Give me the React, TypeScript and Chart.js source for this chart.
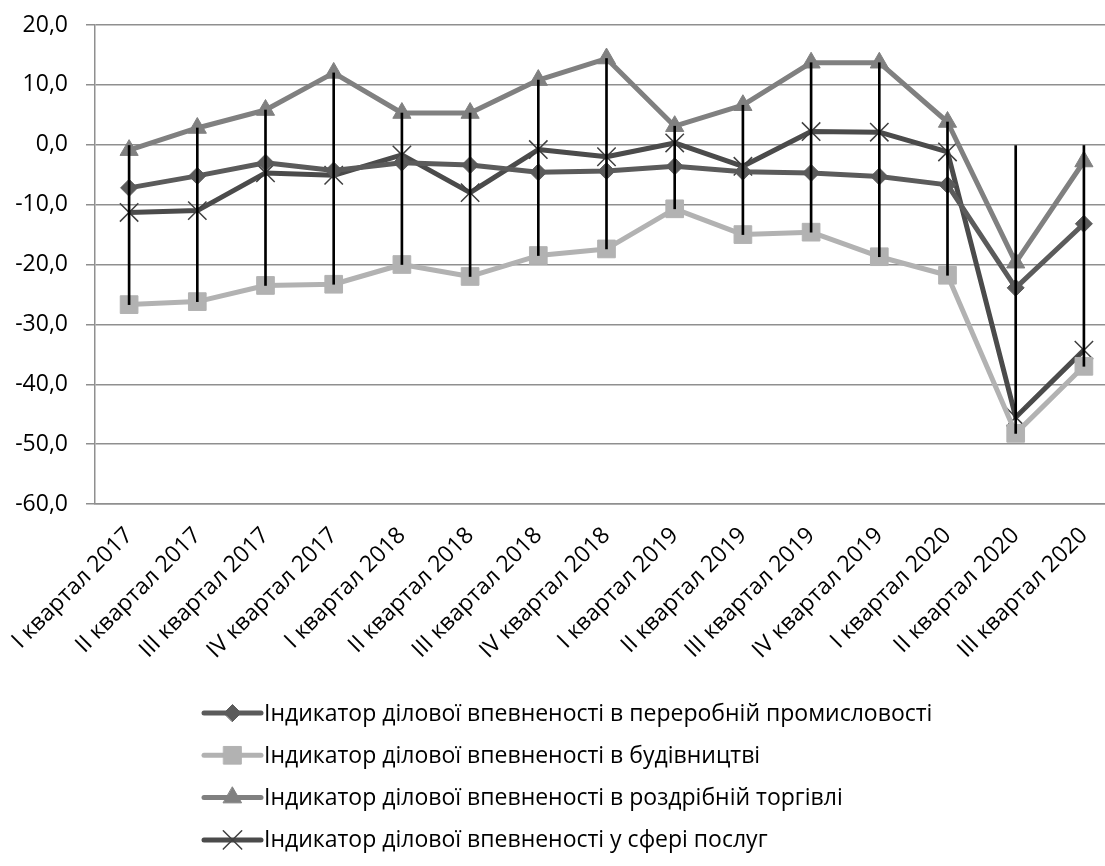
import React, { useEffect, useRef } from "react";
import { Chart, registerables } from "chart.js";
import { drawPoint } from "chart.js/helpers";

Chart.register(...registerables);

const categories = [
  "I квартал 2017", "II квартал 2017", "III квартал 2017", "IV квартал 2017",
  "I квартал 2018", "II квартал 2018", "III квартал 2018", "IV квартал 2018",
  "I квартал 2019", "II квартал 2019", "III квартал 2019", "IV квартал 2019",
  "I квартал 2020", "II квартал 2020", "III квартал 2020",
];

const manufacturing = [-7.2, -5.2, -3.0, -4.3, -3.0, -3.4, -4.6, -4.4, -3.6, -4.5, -4.7, -5.3, -6.7, -23.9, -13.2];
const construction = [-26.7, -26.2, -23.5, -23.3, -20.0, -22.0, -18.5, -17.4, -10.7, -15.0, -14.6, -18.7, -21.8, -48.2, -37.0];
const retail = [-0.9, 2.8, 5.8, 12.0, 5.3, 5.3, 10.8, 14.4, 3.1, 6.6, 13.7, 13.7, 3.8, -19.7, -2.8];
const services = [-11.3, -11.0, -4.7, -5.1, -1.7, -8.0, -0.8, -2.0, 0.3, -3.6, 2.2, 2.1, -1.2, -45.5, -34.3];
const highLowTop = [0, 2.8, 5.8, 12.0, 5.3, 5.3, 10.8, 14.4, 3.1, 6.6, 13.7, 13.7, 3.8, 0, 0];
const highLowBottom = construction;

const seriesNames = [
  "Індикатор ділової впевненості в переробній промисловості",
  "Індикатор ділової впевненості в будівництві",
  "Індикатор ділової впевненості в роздрібній торгівлі",
  "Індикатор ділової впевненості у сфері послуг",
];

const yMin = -60;
const yMax = 20;
const yStep = 10;

const FONT = "'Open Sans', 'Noto Sans', sans-serif";
const FONT_SIZE = 23;

const legendPlugin = {
  id: "customLegend",
  afterDraw(chart: any) {
    const ctx = chart.ctx;
    const metas = chart.data.datasets
      .map((d: any, i: number) => ({ d, i }))
      .filter((o: any) => o.d.type !== "bar");
    ctx.save();
    metas.forEach((o: any, k: number) => {
      const d = o.d;
      const y = 713 + k * 42.3;
      const x0 = 204;
      const x1 = 261;
      ctx.strokeStyle = d.borderColor;
      ctx.lineWidth = d.borderWidth;
      ctx.lineCap = "round";
      ctx.beginPath();
      ctx.moveTo(x0, y);
      ctx.lineTo(x1, y);
      ctx.stroke();
      ctx.fillStyle = d.pointBackgroundColor;
      ctx.strokeStyle = d.pointBorderColor;
      ctx.lineWidth = d.pointBorderWidth;
      drawPoint(ctx, {
        pointStyle: d.pointStyle,
        rotation: 0,
        radius: d.pointRadius,
        borderWidth: d.pointBorderWidth,
      } as any, (x0 + x1) / 2, y);
      ctx.fillStyle = "#000";
      ctx.font = `${FONT_SIZE}px ${FONT}`;
      ctx.textBaseline = "middle";
      ctx.textAlign = "left";
      ctx.fillText(d.label, 264, y + 1);
    });
    ctx.restore();
  },
};

export default function App() {
  const ref = useRef<HTMLCanvasElement>(null);

  useEffect(() => {
    if (!ref.current) return;
    Chart.defaults.font.family = FONT;
    const lineBase = {
      type: "line" as const,
      tension: 0,
      borderWidth: 5,
      order: 1,
      borderJoinStyle: "round" as const,
    };
    const chart = new Chart(ref.current, {
      type: "line",
      data: {
        labels: categories,
        datasets: [
          {
            type: "bar",
            label: "range",
            data: highLowTop.map((t, i) => [highLowBottom[i], t]),
            backgroundColor: "#000",
            borderWidth: 0,
            barThickness: 2,
            order: 0,
          } as any,
          {
            ...lineBase,
            label: seriesNames[0],
            data: manufacturing,
            borderColor: "#5b5b5b",
            pointStyle: "rectRot",
            pointRadius: 8.5,
            pointBackgroundColor: "#5b5b5b",
            pointBorderColor: "#5b5b5b",
            pointBorderWidth: 1,
          },
          {
            ...lineBase,
            label: seriesNames[1],
            data: construction,
            borderColor: "#b2b2b2",
            pointStyle: "rect",
            pointRadius: 12.5,
            pointBackgroundColor: "#b2b2b2",
            pointBorderColor: "#b2b2b2",
            pointBorderWidth: 1,
          },
          {
            ...lineBase,
            label: seriesNames[2],
            data: retail,
            borderColor: "#808080",
            pointStyle: "triangle",
            pointRadius: 10.5,
            pointBackgroundColor: "#808080",
            pointBorderColor: "#808080",
            pointBorderWidth: 1,
          },
          {
            ...lineBase,
            label: seriesNames[3],
            data: services,
            borderColor: "#4b4b4b",
            pointStyle: "crossRot",
            pointRadius: 13,
            pointBackgroundColor: "#404040",
            pointBorderColor: "#404040",
            pointBorderWidth: 1.5,
          },
        ],
      },
      options: {
        responsive: true,
        maintainAspectRatio: false,
        animation: false,
        layout: { autoPadding: false, padding: { top: 25, left: 0, right: 0, bottom: 0 } },
        plugins: {
          legend: { display: false },
          tooltip: { enabled: false },
        },
        scales: {
          x: {
            offset: true,
            grid: { display: false, drawTicks: false },
            border: { display: true, color: "#8f8f8f", width: 1.5 },
            ticks: {
              minRotation: 45,
              maxRotation: 45,
              autoSkip: false,
              padding: 18,
              color: "#000",
              font: { size: FONT_SIZE, family: FONT },
            },
            afterFit: (s: any) => {
              s.height = 362;
              s.paddingLeft = 0;
              s.paddingRight = 0;
            },
          },
          y: {
            min: yMin,
            max: yMax,
            ticks: {
              stepSize: yStep,
              padding: 18,
              color: "#000",
              font: { size: FONT_SIZE, family: FONT },
              callback: (v: any) => Number(v).toFixed(1).replace(".", ","),
            },
            grid: { color: "#8f8f8f", lineWidth: 1.5, tickLength: 9 },
            border: { display: true, color: "#8f8f8f", width: 1.5 },
            afterFit: (s: any) => {
              s.width = 95;
              s.paddingTop = 0;
              s.paddingBottom = 0;
            },
          },
        },
      },
      plugins: [legendPlugin],
    });
    return () => chart.destroy();
  }, []);

  return (
    <div
      style={{
        position: "fixed",
        left: 0,
        top: 0,
        width: 1105,
        height: 866,
        overflow: "hidden",
        background: "#fff",
      }}
    >
      <div style={{ position: "relative", width: 1118, height: 866 }}>
        <canvas ref={ref} />
      </div>
    </div>
  );
}
